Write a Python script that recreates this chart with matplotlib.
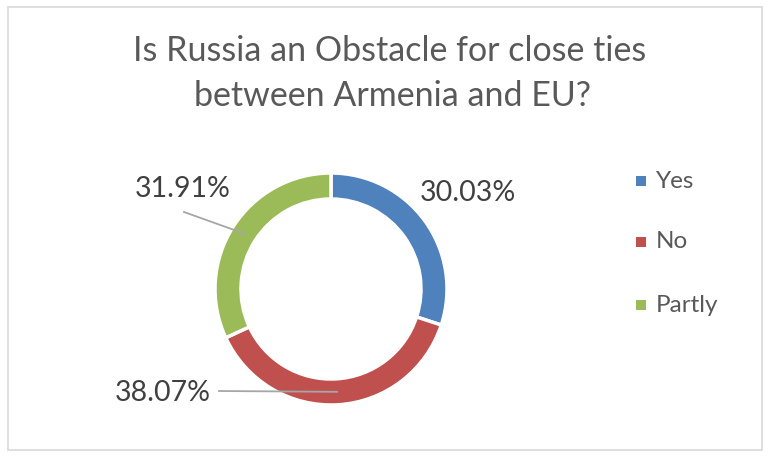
import numpy as np
import matplotlib
matplotlib.use("Agg")
import matplotlib.pyplot as plt
from matplotlib.patches import Rectangle

title = "Is Russia an Obstacle for close ties\nbetween Armenia and EU?"
categories = ["Yes", "No", "Partly"]
values = [30.03, 38.07, 31.91]
labels = ["30.03%", "38.07%", "31.91%"]
colors = ["#4F81BD", "#C0504D", "#9BBB59"]

plt.rcParams['font.family'] = ['Lato', 'DejaVu Sans']
W, H = 770, 457
fig = plt.figure(figsize=(W / 100, H / 100), dpi=100)
ax = fig.add_axes([0, 0, 1, 1])

txt = "#595959"
lbl = "#404040"

cx, cy, R = 331, H - 289, 116
width = 26
wedges, _ = ax.pie(values, colors=colors, startangle=90, counterclock=False,
                   radius=R, center=(cx, cy), frame=True,
                   wedgeprops=dict(width=width, edgecolor="white", linewidth=2.5))
ax.set_xlim(0, W)
ax.set_ylim(0, H)
ax.set_aspect('equal')
ax.axis('off')

# border
ax.add_patch(Rectangle((8, 7), 754, 443, fill=False, edgecolor="#D9D9D9", lw=1.2))

ax.text(390, H - 51, title.split("\n")[0], ha='center', va='center', fontsize=24.5, color=txt)
ax.text(392, H - 96, title.split("\n")[1], ha='center', va='center', fontsize=24.5, color=txt)

# data labels
label_pos = {"Yes": (468, 193), "No": (163, 393), "Partly": (183, 189)}
line_start = {"No": (219, 391), "Partly": (184, 212)}
total = sum(values)
cum = 0
for cat, v, lab in zip(categories, values, labels):
    mid = 90 - 360 * (cum + v / 2) / total
    cum += v
    lx, ly = label_pos[cat]
    ax.text(lx, H - ly, lab, ha='center', va='center', fontsize=20.5, color=lbl)
    if cat in line_start:
        rm = R - width / 2
        ex = cx + rm * np.cos(np.radians(mid))
        ey = cy + rm * np.sin(np.radians(mid))
        sx, sy = line_start[cat]
        ax.plot([sx, ex], [H - sy, ey], color="#A6A6A6", lw=1.3)

# legend
leg_y = [181, 242, 305]
for cat, c, y in zip(categories, colors, leg_y):
    ax.add_patch(Rectangle((641 - 5, H - y - 5), 10, 10, facecolor=c, edgecolor='none'))
    ax.text(656, H - y, cat, ha='left', va='center', fontsize=17.5, color=txt)

fig.savefig("out.png", dpi=100)
